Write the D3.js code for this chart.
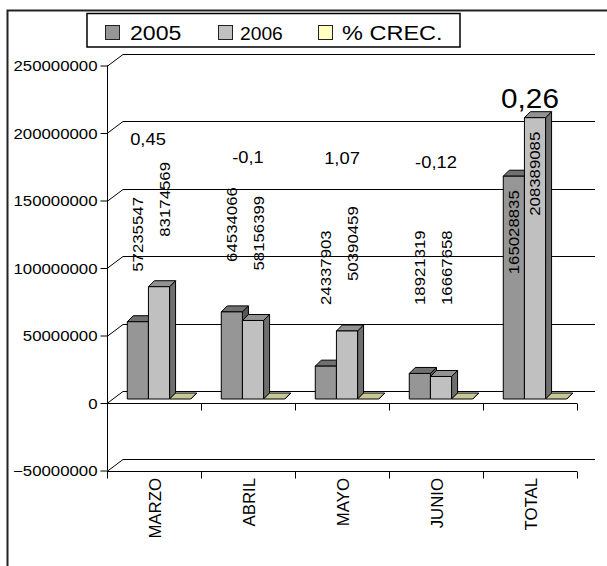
<!DOCTYPE html>
<html><head><meta charset="utf-8">
<script src="https://cdn.jsdelivr.net/npm/d3@7"></script>
<style>body{margin:0;background:#fff} svg{display:block}</style>
</head><body>
<script>
// ---- DATA ----
const categories = ["MARZO", "ABRIL", "MAYO", "JUNIO", "TOTAL"];
const values2005 = [57235547, 64534066, 24337903, 18921319, 165028835];
const values2006 = [83174569, 58156399, 50390459, 16667658, 208389085];
const crecimiento = [0.45, -0.1, 1.07, -0.12, 0.26];
const crecLabels = ["0,45", "-0,1", "1,07", "-0,12", "0,26"];
const yTicks = [-50000000, 0, 50000000, 100000000, 150000000, 200000000, 250000000];
const seriesNames = ["2005", "2006", "% CREC."];

// ---- LAYOUT / STYLE ----
const W = 607, H = 566;
const FONT = "'Liberation Sans', Arial, sans-serif";
const seriesColors = [
  {front: "#969696", top: "#707070", side: "#585858"},
  {front: "#c0c0c0", top: "#929292", side: "#6e6e6e"},
  {front: "#ffffc0", top: "#c8c896", side: "#a0a078"}
];
const wallDepth = {dx: 16, dy: -12};
const barShift = {dx: 5, dy: -4};
const barDepth = {dx: 6, dy: -6};
const crecLabelNudge = [{dx: -6, y: 145}, {dx: 0, y: 163}, {dx: 0, y: 164}, {dx: 0, y: 168}];

const svg = d3.select("body").append("svg").attr("width", W).attr("height", H);

// outer frame
svg.append("rect").attr("x", 7.5).attr("y", 10.5).attr("width", 660).attr("height", 620)
  .attr("fill", "none").attr("stroke", "#222").attr("stroke-width", 2);

const x = d3.scaleBand().domain(categories).range([107, 577]);
const y = d3.scaleLinear().domain([-50e6, 250e6]).range([470.5, 65.5]);
const xLeft = 107, xRightFront = 577, xRightBack = 595;

// back wall gridlines with side-wall diagonals
const grid = svg.append("g").attr("fill", "none").attr("stroke", "#000").attr("stroke-width", 1);
yTicks.forEach(t => {
  const yy = Math.round(y(t)) + 0.5;
  grid.append("path").attr("d",
    `M${xLeft},${yy} L${xLeft + wallDepth.dx},${yy + wallDepth.dy} L${xRightBack},${yy + wallDepth.dy}`);
});

// front lines (floor edge at 0 and category axis at -50M) with boundary ticks
const boundaries = categories.map(c => x(c)).concat([x(categories[categories.length - 1]) + x.bandwidth()]);
[0, -50e6].forEach(v => {
  const yy = Math.round(y(v)) + 0.5;
  grid.append("line").attr("x1", xLeft).attr("x2", xRightFront).attr("y1", yy).attr("y2", yy);
  boundaries.forEach(b => {
    const bx = Math.round(b) + 0.5;
    grid.append("line").attr("x1", bx).attr("x2", bx).attr("y1", yy).attr("y2", yy + 7);
  });
});

// y axis
const yAxis = d3.axisLeft(y).tickValues(yTicks).tickSize(7).tickFormat(d3.format("d"));
const ga = svg.append("g").attr("transform", `translate(${xLeft + 0.5},0)`).call(yAxis);
ga.select(".domain").attr("d", `M0,${y(250e6)}V${y(-50e6)}`).attr("stroke", "#000");
ga.selectAll(".tick line").attr("stroke", "#000");
ga.selectAll(".tick text")
  .attr("x", null).attr("dy", null)
  .attr("transform", "translate(-10,5) scale(1.2,1)")
  .attr("text-anchor", "end")
  .style("font-family", FONT).style("font-size", "14px").attr("fill", "#000");

// bars
const barW = x.bandwidth() * 0.225;
const groupOffset = (x.bandwidth() - 3 * barW) / 2;
const bars = svg.append("g").attr("stroke", "#000").attr("stroke-width", 1).attr("stroke-linejoin", "round");
const seriesValues = [values2005, values2006, crecimiento];
const labelFont = 14, labelStretch = 1.2, capH = 0.716 * labelFont;
const labels = svg.append("g").style("font-family", FONT).attr("fill", "#000");

categories.forEach((c, ci) => {
  seriesValues.forEach((vals, si) => {
    const v = vals[ci];
    const x0 = x(c) + groupOffset + si * barW + barShift.dx;
    const yb = y(0) + barShift.dy;
    const yt = y(v) + barShift.dy;
    const col = seriesColors[si];
    const dx = barDepth.dx, dy = barDepth.dy, x1 = x0 + barW;
    bars.append("path").attr("fill", col.side)
      .attr("d", `M${x1},${yt} L${x1 + dx},${yt + dy} L${x1 + dx},${yb + dy} L${x1},${yb} Z`);
    bars.append("path").attr("fill", col.top)
      .attr("d", `M${x0},${yt} L${x1},${yt} L${x1 + dx},${yt + dy} L${x0 + dx},${yt + dy} Z`);
    if (yb - yt > 0.5) {
      bars.append("rect").attr("fill", col.front)
        .attr("x", x0).attr("y", yt).attr("width", barW).attr("height", yb - yt);
    }
    // value labels for 2005/2006
    if (si < 2) {
      const s = d3.format("d")(v);
      const len = s.length * 0.556 * labelFont * labelStretch;
      let bottom = Math.min(yt - 50, 305);
      let cx = x0 + barW / 2 + (si === 1 ? 6 : 0);
      if (bottom - len < 60) { bottom = yt + 14 + len; cx = x0 + barW / 2; }
      labels.append("text").text(s)
        .attr("transform", `translate(${cx + capH / 2},${bottom}) rotate(-90) scale(${labelStretch},1)`)
        .attr("text-anchor", "start").style("font-size", labelFont + "px");
    }
  });
  // % CREC labels
  const cx = x(c) + x.bandwidth() / 2;
  if (ci < 4) {
    const n = crecLabelNudge[ci];
    labels.append("text").text(crecLabels[ci])
      .attr("transform", `translate(${cx + n.dx},${n.y}) scale(1.08,1)`)
      .attr("text-anchor", "middle").style("font-size", "17px");
  } else {
    const yt = y(values2006[ci]) + barShift.dy;
    labels.append("text").text(crecLabels[ci])
      .attr("transform", `translate(${cx},${yt - 10}) scale(1.1,1)`)
      .attr("text-anchor", "middle").style("font-size", "27px");
  }
});

// category labels
const catG = svg.append("g").style("font-family", FONT).attr("fill", "#000");
categories.forEach(c => {
  const cx = x(c) + x.bandwidth() / 2 + 1;
  catG.append("text").text(c)
    .attr("transform", `translate(${cx + 0.716 * 16 / 2},478) rotate(-90) scale(1.05,1)`)
    .attr("text-anchor", "end").style("font-size", "16px");
});

// legend
const lg = svg.append("g").style("font-family", FONT);
lg.append("rect").attr("x", 87).attr("y", 13.5).attr("width", 373).attr("height", 33.5)
  .attr("fill", "#fff").attr("stroke", "#000").attr("stroke-width", 1.5);
const legendItems = [
  {sq: 105, tx: 130, size: 21, sc: 1.1},
  {sq: 218, tx: 240, size: 17.5, sc: 1.1},
  {sq: 318, tx: 342, size: 21, sc: 1.12}
];
seriesNames.forEach((name, i) => {
  const it = legendItems[i];
  lg.append("rect").attr("x", it.sq + 0.5).attr("y", 25.5).attr("width", 14).attr("height", 14)
    .attr("fill", seriesColors[i].front).attr("stroke", "#222").attr("stroke-width", 1);
  lg.append("text").text(name)
    .attr("transform", `translate(${it.tx},40) scale(${it.sc},1)`)
    .style("font-size", it.size + "px").attr("fill", "#000");
});
</script>
</body></html>
